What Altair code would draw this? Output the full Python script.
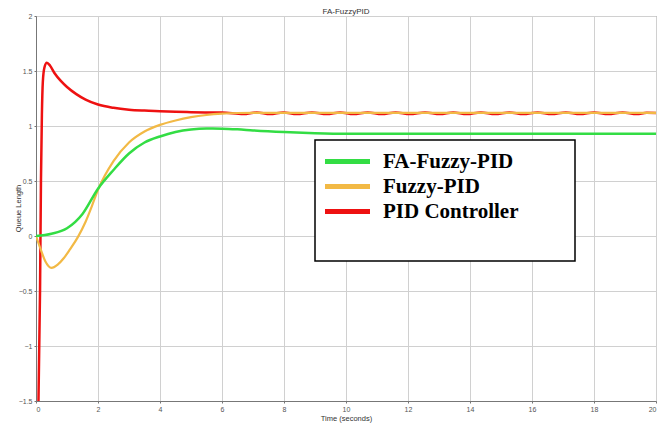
import altair as alt
import pandas as pd

# ---- data ----
t_green = [0, 0.5, 1, 1.5, 2, 2.5, 3, 3.5, 4, 4.5, 5, 5.5, 6, 6.5, 7, 8, 9, 10, 12, 14, 16, 18, 20]
y_green = [0, 0.02, 0.07, 0.2, 0.43, 0.6, 0.75, 0.85, 0.905, 0.945, 0.968, 0.977, 0.976, 0.97,
           0.96, 0.945, 0.935, 0.93, 0.93, 0.93, 0.93, 0.93, 0.93]

t_orange = [0, 0.15, 0.3, 0.5, 0.7, 0.9, 1.1, 1.35, 1.6, 1.8, 2, 2.5, 3, 3.5, 4, 4.5, 5, 5.5, 6,
            6.5, 7, 8, 10, 12, 14, 16, 18, 20]
y_orange = [0, -0.12, -0.23, -0.29, -0.26, -0.2, -0.12, -0.01, 0.13, 0.27, 0.42, 0.68, 0.85, 0.95,
            1.01, 1.05, 1.08, 1.1, 1.112, 1.118, 1.12, 1.12, 1.12, 1.12, 1.12, 1.12, 1.12, 1.12]

t_red = [0.08, 0.13, 0.16, 0.19, 0.22, 0.27, 0.35, 0.45, 0.6, 0.8, 1.0, 1.3, 1.6, 2.0, 2.5, 3.0,
         3.5, 4.0, 4.5, 5.0, 5.5, 6.0, 6.69, 7.12, 7.55, 7.98, 8.41, 8.9, 9.38, 9.81, 10.24, 10.7,
         11.15, 11.6, 12.06, 12.55, 13.03, 13.46, 13.89, 14.35, 14.81, 15.27, 15.72, 16.18, 16.63,
         17.09, 17.55, 18.0, 18.46, 18.92, 19.38, 19.7, 20.0]
y_red = [-1.5, -0.5, 0.5, 1.1, 1.4, 1.53, 1.575, 1.55, 1.48, 1.41, 1.355, 1.29, 1.24, 1.195, 1.165,
         1.148, 1.14, 1.135, 1.13, 1.126, 1.123, 1.122, 1.108, 1.123, 1.108, 1.123, 1.108, 1.123,
         1.108, 1.123, 1.108, 1.123, 1.108, 1.123, 1.108, 1.123, 1.108, 1.123, 1.108, 1.123, 1.108,
         1.123, 1.108, 1.123, 1.108, 1.123, 1.108, 1.123, 1.108, 1.123, 1.108, 1.12, 1.118]

series_names = ["FA-Fuzzy-PID", "Fuzzy-PID", "PID Controller"]
series_colors = ["#33dd44", "#f2b945", "#ee1111"]

x_ticks = [0, 2, 4, 6, 8, 10, 12, 14, 16, 18, 20]
y_ticks = [-1.5, -1, -0.5, 0, 0.5, 1, 1.5, 2]

df_g = pd.DataFrame({"t": t_green, "y": y_green, "s": series_names[0]})
df_o = pd.DataFrame({"t": t_orange, "y": y_orange, "s": series_names[1]})
df_r = pd.DataFrame({"t": t_red, "y": y_red, "s": series_names[2]})

color = alt.Color(
    "s:N",
    scale=alt.Scale(domain=series_names, range=series_colors),
    sort=series_names,
    legend=alt.Legend(
        # invisible spacer title that widens / heightens the legend box
        title="_" * 24,
        titleOrient="bottom",
        titleFontSize=20,
        titleFont="Liberation Serif",
        titleOpacity=0,
        titlePadding=9,
        titleLimit=400,
        orient="none",
        legendX=279,
        legendY=124,
        symbolType="M-2.5,0L2.5,0",
        symbolSize=324,
        symbolStrokeWidth=5,
        symbolOffset=11,
        labelFont="Liberation Serif",
        labelFontWeight="bold",
        labelFontSize=21,
        labelColor="#000000",
        labelOffset=24,
        labelLimit=300,
        rowPadding=3,
        padding=10,
        strokeColor="#000000",
        fillColor="#ffffff",
    ),
)

x = alt.X("t:Q", scale=alt.Scale(domain=[0, 20], nice=False),
          axis=alt.Axis(values=x_ticks, title="Time (seconds)"))
y = alt.Y("y:Q", scale=alt.Scale(domain=[-1.5, 2], nice=False),
          axis=alt.Axis(values=y_ticks, format=".1~f", title="Queue Length",
                        titleX=-14, titleY=192))

red = alt.Chart(df_r).mark_line(strokeWidth=2.5, clip=True, interpolate="monotone").encode(x=x, y=y, color=color)
orange = alt.Chart(df_o).mark_line(strokeWidth=2.2, clip=True, interpolate="monotone").encode(x=x, y=y, color=color)
green = alt.Chart(df_g).mark_line(strokeWidth=2.5, clip=True, interpolate="monotone").encode(x=x, y=y, color=color)

chart = alt.layer(red, orange, green).properties(
    width=620,
    height=385,
    title=alt.TitleParams("FA-FuzzyPID", fontSize=8, font="Liberation Sans", fontWeight="normal",
                          color="#333333", offset=2, frame="group", dy=6),
    autosize=alt.AutoSizeParams(type="none"),
    padding={"left": 28, "top": 8, "right": 3, "bottom": 22},
).configure_view(
    stroke="#777777", strokeWidth=1
).configure_legend(
    strokeWidth=1.5
).configure_axis(
    grid=True,
    gridColor="#d0d0d0",
    gridWidth=1,
    domainColor="#777777",
    tickColor="#777777",
    tickSize=2,
    labelFont="Liberation Sans",
    labelFontSize=7,
    labelColor="#555555",
    titleFont="Liberation Sans",
    titleFontSize=7.5,
    titleFontWeight="normal",
    titleColor="#333333",
).configure_axisX(
    labelPadding=2, titlePadding=2
).configure_axisY(
    labelPadding=2
)

chart.save("out.html", embed_options={"renderer": "svg", "actions": False})
